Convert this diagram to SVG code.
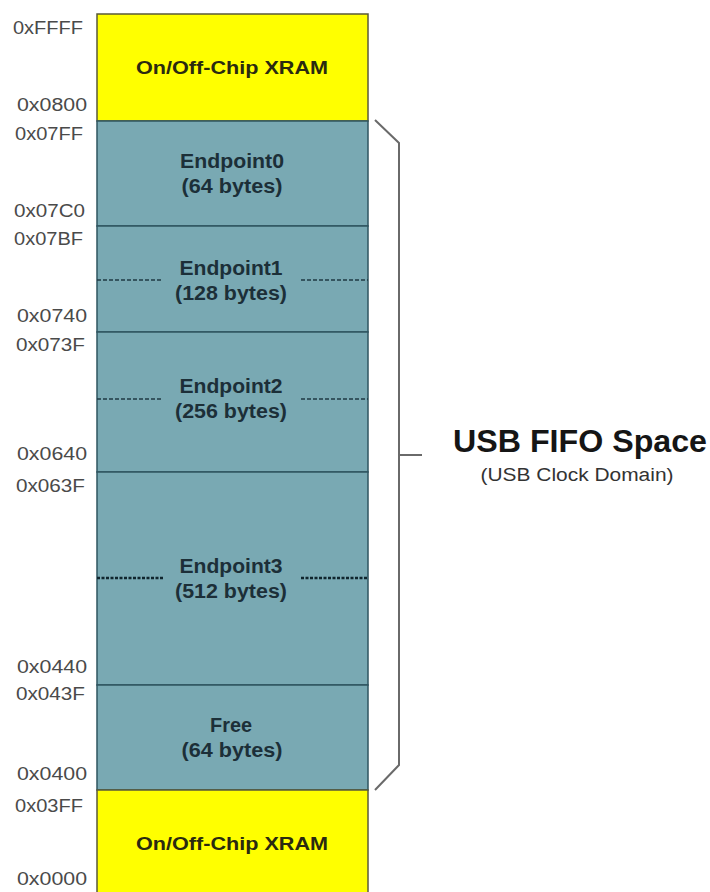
<svg xmlns="http://www.w3.org/2000/svg" width="710" height="892" viewBox="0 0 710 892">
<style>
.xram{fill:#ffff00;stroke:#5a5a3a;stroke-width:1.5}
.fifo{fill:#79a9b3;stroke:#2f5560;stroke-width:1.5}
.addr{font-family:"Liberation Sans",Arial,sans-serif;font-size:18px;fill:#4a4a4a}
.lbl{font-family:"Liberation Sans",Arial,sans-serif;font-weight:bold;font-size:20px;fill:#1c2f38;text-anchor:middle}
.xl{font-family:"Liberation Sans",Arial,sans-serif;font-weight:bold;font-size:19px;fill:#2a2a10;text-anchor:middle}
.dash{stroke:#1f3a44;stroke-width:1.5;stroke-dasharray:4 2}
.dash3{stroke:#10262e;stroke-width:2.5;stroke-dasharray:3 1.5}
.br{fill:none;stroke:#6a6a6a;stroke-width:2}
</style>
<rect width="710" height="892" fill="#ffffff"/>
<g id="xram-top"><rect class="xram" x="97" y="14" width="271" height="107"/><text class="xl" x="232" y="74" textLength="192" lengthAdjust="spacingAndGlyphs">On/Off-Chip XRAM</text></g>
<g id="ep0"><rect class="fifo" x="97" y="121" width="271" height="105"/><text class="lbl" x="232" y="168" textLength="104" lengthAdjust="spacingAndGlyphs">Endpoint0</text><text class="lbl" x="232" y="193" textLength="101" lengthAdjust="spacingAndGlyphs">(64 bytes)</text></g>
<g id="ep1"><rect class="fifo" x="97" y="226" width="271" height="106"/><line class="dash" x1="97" y1="280" x2="163" y2="280"/><line class="dash" x1="301" y1="280" x2="368" y2="280"/><text class="lbl" x="231" y="275" textLength="103" lengthAdjust="spacingAndGlyphs">Endpoint1</text><text class="lbl" x="231" y="300" textLength="112" lengthAdjust="spacingAndGlyphs">(128 bytes)</text></g>
<g id="ep2"><rect class="fifo" x="97" y="332" width="271" height="140"/><line class="dash" x1="97" y1="399" x2="163" y2="399"/><line class="dash" x1="301" y1="399" x2="368" y2="399"/><text class="lbl" x="231" y="393" textLength="103" lengthAdjust="spacingAndGlyphs">Endpoint2</text><text class="lbl" x="231" y="418" textLength="112" lengthAdjust="spacingAndGlyphs">(256 bytes)</text></g>
<g id="ep3"><rect class="fifo" x="97" y="472" width="271" height="213"/><line class="dash3" x1="97" y1="578" x2="163" y2="578"/><line class="dash3" x1="301" y1="578" x2="368" y2="578"/><text class="lbl" x="231" y="573" textLength="103" lengthAdjust="spacingAndGlyphs">Endpoint3</text><text class="lbl" x="231" y="598" textLength="112" lengthAdjust="spacingAndGlyphs">(512 bytes)</text></g>
<g id="free"><rect class="fifo" x="97" y="685" width="271" height="105"/><text class="lbl" x="231" y="732" textLength="42" lengthAdjust="spacingAndGlyphs">Free</text><text class="lbl" x="232" y="757" textLength="101" lengthAdjust="spacingAndGlyphs">(64 bytes)</text></g>
<g id="xram-bottom"><rect class="xram" x="97" y="790" width="271" height="104"/><text class="xl" x="232" y="850" textLength="192" lengthAdjust="spacingAndGlyphs">On/Off-Chip XRAM</text></g>
<g id="addresses">
<text class="addr" x="13" y="34" textLength="70" lengthAdjust="spacingAndGlyphs">0xFFFF</text>
<text class="addr" x="17" y="111" textLength="70" lengthAdjust="spacingAndGlyphs">0x0800</text>
<text class="addr" x="15" y="140" textLength="68" lengthAdjust="spacingAndGlyphs">0x07FF</text>
<text class="addr" x="14" y="217" textLength="71" lengthAdjust="spacingAndGlyphs">0x07C0</text>
<text class="addr" x="14" y="245" textLength="69" lengthAdjust="spacingAndGlyphs">0x07BF</text>
<text class="addr" x="17" y="322" textLength="70" lengthAdjust="spacingAndGlyphs">0x0740</text>
<text class="addr" x="16" y="351" textLength="69" lengthAdjust="spacingAndGlyphs">0x073F</text>
<text class="addr" x="17" y="460" textLength="70" lengthAdjust="spacingAndGlyphs">0x0640</text>
<text class="addr" x="16" y="492" textLength="69" lengthAdjust="spacingAndGlyphs">0x063F</text>
<text class="addr" x="17" y="673" textLength="70" lengthAdjust="spacingAndGlyphs">0x0440</text>
<text class="addr" x="16" y="700" textLength="69" lengthAdjust="spacingAndGlyphs">0x043F</text>
<text class="addr" x="17" y="780" textLength="70" lengthAdjust="spacingAndGlyphs">0x0400</text>
<text class="addr" x="15" y="812" textLength="68" lengthAdjust="spacingAndGlyphs">0x03FF</text>
<text class="addr" x="17" y="885" textLength="70" lengthAdjust="spacingAndGlyphs">0x0000</text>
</g>
<g id="connectors"><path class="br" d="M375,120 L399,143 L399,765 L375,790"/><line class="br" x1="399" y1="455" x2="422" y2="455"/></g>
<g id="usb-fifo-label"><text x="580" y="452" font-family="'Liberation Sans',Arial,sans-serif" font-weight="bold" font-size="31" fill="#151515" text-anchor="middle" textLength="254" lengthAdjust="spacingAndGlyphs">USB FIFO Space</text><text x="577" y="481" font-family="'Liberation Sans',Arial,sans-serif" font-size="18" fill="#333" text-anchor="middle" textLength="193" lengthAdjust="spacingAndGlyphs">(USB Clock Domain)</text></g>
</svg>
